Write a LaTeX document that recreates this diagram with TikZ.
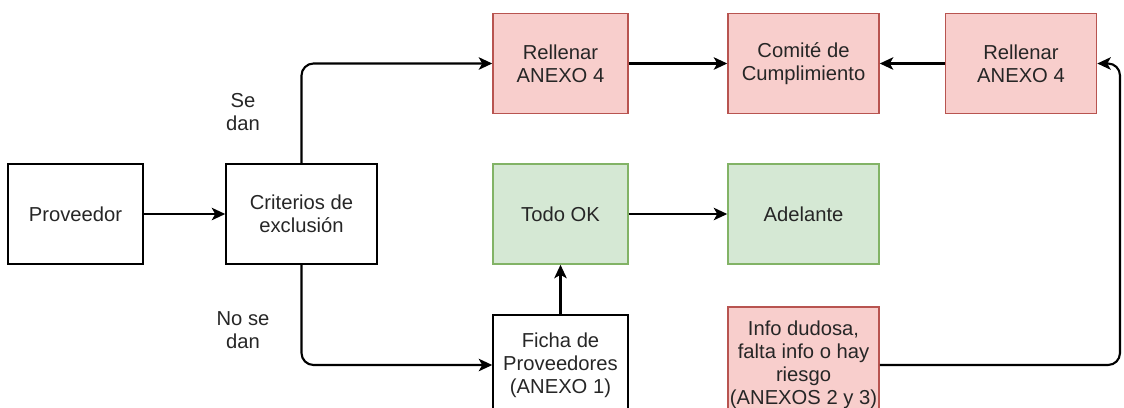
\documentclass[tikz,border=0pt]{standalone}
\usepackage{fontspec}
\setmainfont{Liberation Sans}
\usetikzlibrary{arrows.meta}
\definecolor{pinkfill}{HTML}{F8CECC}
\definecolor{pinkline}{HTML}{B85450}
\definecolor{greenfill}{HTML}{D5E8D4}
\definecolor{greenline}{HTML}{82B366}

\begin{document}
\begin{tikzpicture}[x=0.02cm,y=-0.02cm,
	box/.style={draw, line width=0.9pt, align=center, minimum width=2.7cm, minimum height=2cm,
		inner sep=1pt, font=\fontsize{11.5}{13}\selectfont, text=black!85},
	wide/.style={minimum width=3.02cm},
	pinkbox/.style={box, fill=pinkfill, draw=pinkline},
	greenbox/.style={box, fill=greenfill, draw=greenline},
	lbl/.style={align=center, font=\fontsize{11.5}{13}\selectfont, text=black!85},
	line/.style={draw, line width=1.2pt, rounded corners=0.24cm, -{Stealth[length=0.27cm, width=0.25cm, inset=0.07cm]}}]
	\useasboundingbox (0,0) rectangle (1124,407);
	\clip (0,0) rectangle (1124,407);
	\node[box] (prov) at (75.5,214) {Proveedor};
	\node[box, wide] (crit) at (301.5,214) {Criterios de\\exclusión};
	\node[pinkbox] (rell1) at (560.5,63.5) {Rellenar\\ANEXO 4};
	\node[pinkbox, wide] (comite) at (803.5,63.5) {Comité de\\Cumplimiento};
	\node[pinkbox, wide] (rell2) at (1021,63.5) {Rellenar\\ANEXO 4};
	\node[greenbox] (ok) at (560.5,214) {Todo OK};
	\node[greenbox, wide] (adel) at (803.5,214) {Adelante};
	\node[box] (ficha) at (560.5,365) {Ficha de\\Proveedores\\(ANEXO 1)};
	\node[pinkbox, wide, minimum height=2.32cm] (info) at (803.5,365) {Info dudosa,\\falta info o hay\\riesgo\\(ANEXOS 2 y 3)};
	\node[lbl] (seDan) at (243,112) {Se\\dan};
	\node[lbl] (noseDan) at (243,330) {No se\\dan};
	\coordinate (vuelta) at (1120,365);
	% conexiones
	\draw[line] (prov) -- (crit);
	\draw[line] (crit.north) |- (rell1);
	\draw[line] (crit.south) |- (ficha);
	\draw[line] (ficha) -- (ok);
	\draw[line] (ok) -- (adel);
	\draw[line] (rell1) -- (comite);
	\draw[line] (rell2) -- (comite);
	\draw[line] (info) -- (vuelta) |- (rell2);
\end{tikzpicture}
\end{document}
